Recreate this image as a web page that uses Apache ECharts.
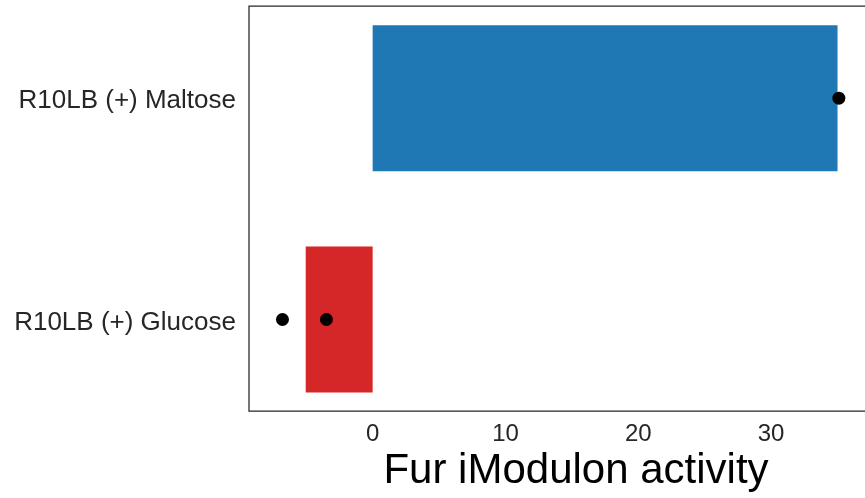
<!DOCTYPE html>
<html>
<head>
<meta charset="utf-8">
<script src="https://cdn.jsdelivr.net/npm/echarts@6/dist/echarts.min.js"></script>
<style>html,body{margin:0;padding:0;background:#fff}#c{width:865px;height:498px}</style>
</head>
<body>
<div id="c"></div>
<script>
const categories = ['R10LB (+) Maltose', 'R10LB (+) Glucose'];
const barValues = [35.0, -5.04];
const barColors = ['#1f77b4', '#d62728'];
const pointCategories = ['R10LB (+) Maltose', 'R10LB (+) Glucose', 'R10LB (+) Glucose'];
const pointValues = [35.1, -6.79, -3.48];
const xTicks = [0, 10, 20, 30];
const xMin = -9.31, xMax = 39.93;
const FONT = 'Liberation Sans, Arial, sans-serif';

const chart = echarts.init(document.getElementById('c'), null, {renderer: 'canvas'});
chart.setOption({
  animation: false,
  backgroundColor: '#fff',
  grid: [
    {left: 249, right: -38, top: -12.45, bottom: 67.85, show: false, outerBoundsMode: 'none'},
    {left: 249, right: -38, top: 6, bottom: 87, show: true, borderColor: '#262626', borderWidth: 1.25, backgroundColor: 'transparent', outerBoundsMode: 'none'}
  ],
  xAxis: [
    {gridIndex: 0, type: 'value', min: xMin, max: xMax, show: false},
    {gridIndex: 1, type: 'value', min: xMin, max: xMax,
     axisLine: {show: false}, axisTick: {show: false}, splitLine: {show: false},
     axisLabel: {customValues: xTicks, color: '#262626', fontSize: 24, fontFamily: FONT, margin: 11},
     name: 'Fur iModulon activity', nameLocation: 'middle', nameGap: 34,
     nameTextStyle: {color: '#000', fontSize: 42, fontFamily: FONT}}
  ],
  yAxis: [
    {gridIndex: 0, type: 'category', data: categories, inverse: true,
     axisLine: {show: false}, axisTick: {show: false}, splitLine: {show: false},
     axisLabel: {color: '#262626', fontSize: 26, fontFamily: FONT, margin: 13, verticalAlign: 'top', lineHeight: 6}},
    {gridIndex: 1, type: 'value', show: false, min: 0, max: 1}
  ],
  series: [
    {type: 'bar', xAxisIndex: 0, yAxisIndex: 0, barWidth: 146,
     data: barValues.map((v, i) => ({value: v, itemStyle: {color: barColors[i]}})), z: 2},
    {type: 'scatter', xAxisIndex: 0, yAxisIndex: 0, symbolSize: 13,
     itemStyle: {color: '#000', opacity: 1}, z: 3,
     data: pointValues.map((v, i) => [v, pointCategories[i]])}
  ]
});
</script>
</body>
</html>
